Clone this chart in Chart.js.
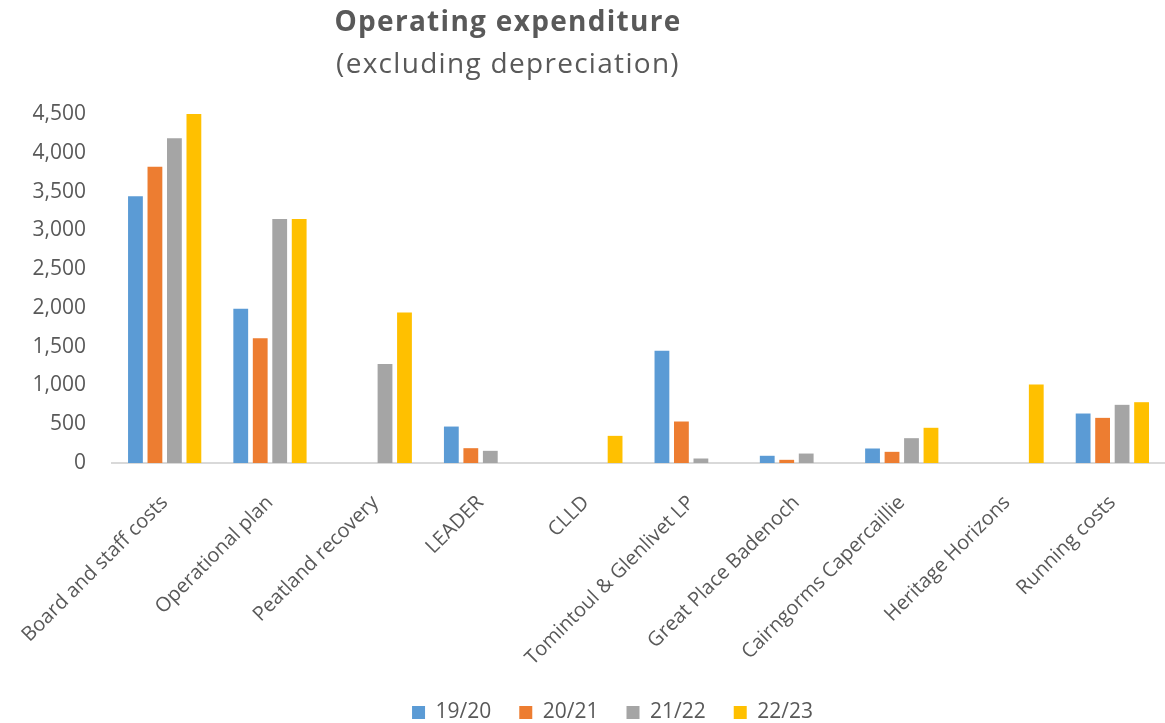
<!DOCTYPE html>
<html>
<head>
<meta charset="utf-8">
<script src="https://cdn.jsdelivr.net/npm/chart.js"></script>
<style>
  body { margin: 0; background: #fff; }
  #wrap { width: 1165px; height: 723px; }
</style>
</head>
<body>
<div id="wrap"><canvas id="mycanvas"></canvas></div>
<script>
  var categories = ['Board and staff costs', 'Operational plan', 'Peatland recovery', 'LEADER', 'CLLD',
    'Tomintoul & Glenlivet LP', 'Great Place Badenoch', 'Cairngorms Capercaillie', 'Heritage Horizons', 'Running costs'];
  var years = ['19/20', '20/21', '21/22', '22/23'];
  var v1920 = [3440, 1990, 0, 470, 0, 1446, 93, 187, 0, 638];
  var v2021 = [3820, 1608, 0, 191, 0, 535, 41, 144, 0, 582];
  var v2122 = [4186, 3147, 1278, 157, 0, 58, 122, 320, 0, 750];
  var v2223 = [4500, 3147, 1940, 0, 350, 0, 0, 454, 1012, 784];
  var yTicks = [0, 500, 1000, 1500, 2000, 2500, 3000, 3500, 4000, 4500];
  var colors = ['#5B9BD5', '#ED7D31', '#A5A5A5', '#FFC000'];

  var titleLines = ['Operating expenditure', '(excluding depreciation)'];

  // title sits left of centre in the original, so draw it by hand
  var titlePlugin = {
    id: 'titleText',
    afterLayout: function(chart) {
      // nudge the legend right and down, like the original
      var lg = chart.legend;
      lg.left += 23; lg.right += 23;
      lg.top += 10; lg.bottom += 10;
    },
    afterDraw: function(chart) {
      var ctx = chart.ctx;
      ctx.save();
      ctx.fillStyle = '#595959';
      ctx.textAlign = 'center';
      ctx.textBaseline = 'middle';
      ctx.letterSpacing = '1.3px';
      ctx.font = 'bold 28px "Open Sans"';
      ctx.fillText(titleLines[0], 508, 23);
      ctx.font = '28px "Open Sans"';
      ctx.fillText(titleLines[1], 508, 65);
      ctx.restore();
    }
  };

  var series = [v1920, v2021, v2122, v2223];
  var datasets = [];
  for (var i in series) {
    datasets.push({
      label: years[i],
      data: series[i],
      backgroundColor: colors[i],
      borderWidth: 0,
      categoryPercentage: 0.74,
      barPercentage: 0.76
    });
  }

  var ctx = document.getElementById('mycanvas');

  var barGraph = new Chart(ctx, {
    type: 'bar',
    data: { labels: categories, datasets: datasets },
    plugins: [titlePlugin],
    options: {
      responsive: true,
      maintainAspectRatio: false,
      animation: false,
      layout: { padding: { top: 114, right: 0, left: 14, bottom: 0 } },
      plugins: {
        legend: {
          position: 'bottom',
          labels: {
            boxWidth: 13,
            boxHeight: 13,
            padding: 28,
            color: '#595959',
            font: { family: 'Open Sans', size: 21 }
          }
        },
        tooltip: { enabled: false }
      },
      scales: {
        x: {
          grid: { display: false },
          border: { color: '#D9D9D9', width: 2 },
          afterFit: function(scale) {
            scale.height = 723 - 463 - scale.chart.legend.height;
          },
          ticks: {
            maxRotation: 45,
            minRotation: 45,
            padding: 20,
            color: '#595959',
            font: { family: 'Open Sans', size: 20 }
          }
        },
        y: {
          min: 0,
          max: 4500,
          grid: { display: false },
          border: { display: false },
          afterBuildTicks: function(axis) {
            axis.ticks = yTicks.map(function(v) { return { value: v }; });
          },
          ticks: {
            padding: 18,
            color: '#595959',
            font: { family: 'Open Sans', size: 21 },
            callback: function(v) { return v.toLocaleString('en-US'); }
          }
        }
      }
    }
  });
</script>
</body>
</html>
